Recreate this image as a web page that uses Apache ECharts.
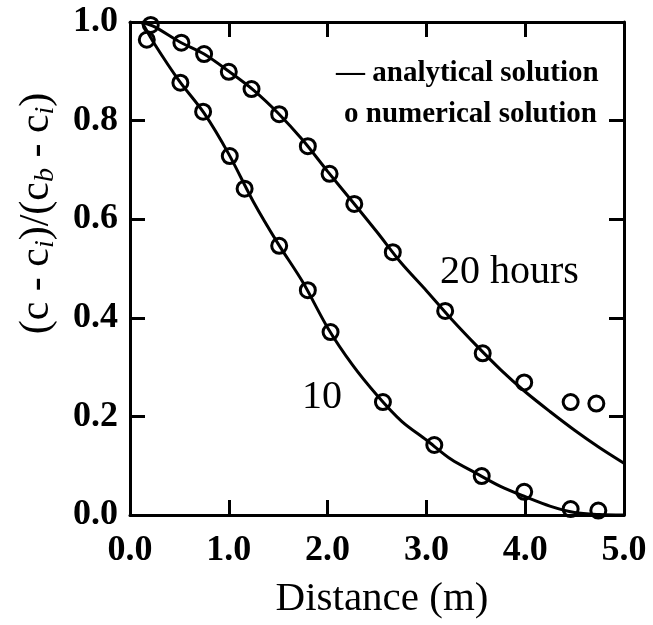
<!DOCTYPE html>
<html>
<head>
<meta charset="utf-8">
<script src="https://cdn.jsdelivr.net/npm/echarts@6/dist/echarts.min.js"></script>
<style>
  html, body { margin: 0; padding: 0; background: #fff; }
  #chart { width: 653px; height: 625px; }
</style>
</head>
<body>
<div id="chart"></div>
<script>
// analytical solution
const distance = [0.12, 0.25, 0.5, 0.75, 1.0, 1.25, 1.5, 1.75, 2.0, 2.25, 2.5, 2.75, 3.0, 3.25, 3.5, 3.75, 4.0, 4.25, 4.5, 4.75, 5.0];
const analytic10 = [1.0, 0.955, 0.88, 0.815, 0.732, 0.635, 0.55, 0.472, 0.38, 0.305, 0.243, 0.19, 0.152, 0.113, 0.085, 0.058, 0.037, 0.018, 0.005, 0.001, 0.0];
const analytic20 = [1.0, 0.99, 0.96, 0.935, 0.9, 0.862, 0.815, 0.76, 0.697, 0.636, 0.574, 0.51, 0.455, 0.398, 0.345, 0.295, 0.25, 0.21, 0.172, 0.137, 0.105];

// numerical solution (circles)
const num10X = [0.17, 0.51, 0.74, 1.01, 1.16, 1.51, 1.80, 2.03, 2.56, 3.08, 3.56, 3.99, 4.46, 4.74];
const num10Y = [0.964, 0.877, 0.818, 0.728, 0.662, 0.546, 0.456, 0.371, 0.229, 0.142, 0.079, 0.047, 0.012, 0.009];
const num20X = [0.21, 0.52, 0.75, 1.00, 1.23, 1.51, 1.80, 2.02, 2.27, 2.66, 3.19, 3.57, 3.99, 4.46, 4.72];
const num20Y = [0.994, 0.958, 0.935, 0.899, 0.864, 0.813, 0.748, 0.692, 0.631, 0.533, 0.414, 0.328, 0.269, 0.229, 0.226];

const serif = '"Liberation Serif", "DejaVu Serif", serif';
const zip = (xs, ys) => xs.map((x, i) => [x, ys[i]]);

const chart = echarts.init(document.getElementById('chart'));

const axisLine = { show: true, onZero: false, lineStyle: { color: '#000', width: 3 } };
const axisTick = { show: true, inside: true, length: 15, lineStyle: { color: '#000', width: 3 } };

const lineSeries = (ys) => ({
    type: 'line',
    data: zip(distance, ys),
    smooth: 0.3,
    showSymbol: false,
    clip: true,
    lineStyle: { color: '#000', width: 3 },
    z: 2
});
const dotSeries = (xs, ys) => ({
    type: 'scatter',
    data: zip(xs, ys),
    symbol: 'circle',
    symbolSize: 15,
    itemStyle: { color: 'rgba(0,0,0,0)', borderColor: '#000', borderWidth: 3, opacity: 1 },
    z: 3
});

chart.setOption({
    animation: false,
    backgroundColor: '#fff',
    grid: { left: 130, right: 29, top: 22, bottom: 104 },
    xAxis: [{
        type: 'value',
        min: 0, max: 5, interval: 1,
        axisLine, axisTick,
        splitLine: { show: false },
        axisLabel: {
            margin: 18,
            formatter: v => v.toFixed(1),
            fontFamily: serif, fontWeight: 'bold', fontSize: 36, color: '#000'
        },
        name: 'Distance (m)',
        nameLocation: 'middle',
        nameGap: 64,
        nameTextStyle: { fontFamily: serif, fontSize: 41, color: '#000', padding: [0, 0, 0, 10] }
    }, {
        type: 'value', position: 'top',
        min: 0, max: 5, interval: 1,
        axisLine, axisTick,
        axisLabel: { show: false },
        splitLine: { show: false }
    }],
    yAxis: [{
        type: 'value',
        min: 0, max: 1, interval: 0.2,
        axisLine, axisTick,
        splitLine: { show: false },
        axisLabel: {
            margin: 12,
            formatter: v => v.toFixed(1),
            fontFamily: serif, fontWeight: 'bold', fontSize: 36, color: '#000'
        },
        name: '{t|(c - c}{s|i}{t|)/(c}{s|b}{t| - c}{s|i}{t|)}',
        nameLocation: 'middle',
        nameRotate: 90,
        nameGap: 70,
        nameTextStyle: {
            padding: [0, 0, 0, 110],
            rich: {
                t: { fontFamily: serif, fontSize: 42, color: '#000', lineHeight: 46 },
                s: { fontFamily: serif, fontSize: 28, fontStyle: 'italic', color: '#000', lineHeight: 46, verticalAlign: 'bottom' }
            }
        }
    }, {
        type: 'value', position: 'right',
        min: 0, max: 1, interval: 0.2,
        axisLine, axisTick,
        axisLabel: { show: false },
        splitLine: { show: false }
    }],
    series: [
        lineSeries(analytic10),
        lineSeries(analytic20),
        dotSeries(num10X, num10Y),
        dotSeries(num20X, num20Y)
    ],
    graphic: [
        { type: 'text', left: 336, top: 59, style: { text: '— analytical solution', font: 'bold 29px ' + serif, fill: '#000' } },
        { type: 'text', left: 344, top: 100, style: { text: 'o numerical solution', font: 'bold 29px ' + serif, fill: '#000' } },
        { type: 'text', left: 440, top: 252, style: { text: '20 hours', font: '40px ' + serif, fill: '#000' } },
        { type: 'text', left: 302, top: 377, style: { text: '10', font: '40px ' + serif, fill: '#000' } }
    ]
});
</script>
</body>
</html>
